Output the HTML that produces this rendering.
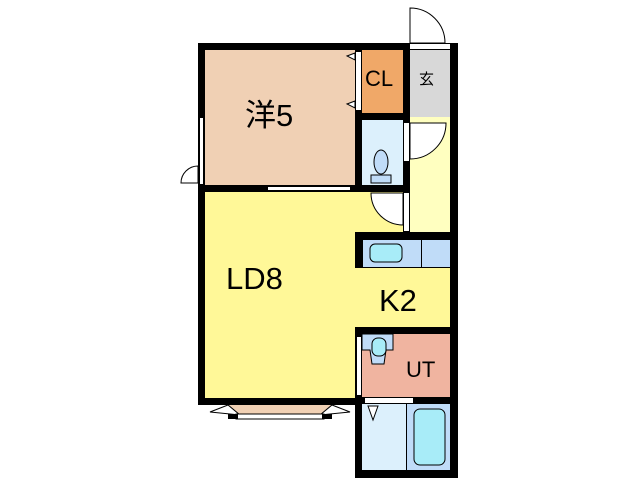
<!DOCTYPE html>
<html><head><meta charset="utf-8"><style>
body{margin:0;width:640px;height:480px;background:#fff;position:relative;overflow:hidden;font-family:"Liberation Sans","Noto Sans CJK JP",sans-serif}
div{position:absolute;box-sizing:border-box}
.w{background:#000}
.t{color:#000;font-size:31px;line-height:1}
</style></head><body>
<!-- rooms -->
<div style="left:205px;top:50px;width:150px;height:135px;background:#f0d0b4"></div>
<div style="left:362px;top:50px;width:41px;height:63px;background:#f0a868"></div>
<div style="left:410px;top:50px;width:40px;height:67px;background:#d8d8d8"></div>
<div style="left:362px;top:120px;width:41px;height:65px;background:#dcf0fc"></div>
<div style="left:410px;top:117px;width:40px;height:115px;background:#ffffc0"></div>
<div style="left:205px;top:192px;width:150px;height:206px;background:#fff898"></div>
<div style="left:355px;top:192px;width:48px;height:40px;background:#fff898"></div>
<div style="left:355px;top:268px;width:95px;height:59px;background:#fff898"></div>
<div style="left:362px;top:240px;width:88px;height:28px;background:#c0dcf8;border-left:1px solid #000;border-bottom:1px solid #000"></div>
<div style="left:421px;top:240px;width:1px;height:28px;background:#000"></div>
<div style="left:362px;top:334px;width:88px;height:63px;background:#f0b4a0"></div>
<div style="left:362px;top:404px;width:88px;height:66px;background:#dcf0fc"></div>
<div style="left:406px;top:404px;width:44px;height:66px;background:#c0dcf8;border-left:1px solid #000"></div>
<!-- walls -->
<div class="w" style="left:198px;top:43px;width:212px;height:7px"></div>
<div class="w" style="left:450px;top:43px;width:8px;height:435px"></div>
<div class="w" style="left:198px;top:43px;width:7px;height:362px"></div>
<div class="w" style="left:198px;top:398px;width:164px;height:7px"></div>
<div class="w" style="left:355px;top:43px;width:7px;height:149px"></div>
<div class="w" style="left:403px;top:43px;width:7px;height:189px"></div>
<div class="w" style="left:355px;top:113px;width:55px;height:7px"></div>
<div class="w" style="left:198px;top:185px;width:212px;height:7px"></div>
<div class="w" style="left:355px;top:232px;width:103px;height:8px"></div>
<div class="w" style="left:355px;top:232px;width:7px;height:36px"></div>
<div class="w" style="left:355px;top:327px;width:103px;height:7px"></div>
<div class="w" style="left:355px;top:327px;width:7px;height:151px"></div>
<div class="w" style="left:355px;top:397px;width:103px;height:7px"></div>
<div class="w" style="left:355px;top:470px;width:103px;height:8px"></div>
<!-- openings -->
<div style="left:410px;top:43px;width:40px;height:7px;background:#fff;border-top:1px solid #000;border-bottom:1px solid #000"></div>
<div style="left:199px;top:118px;width:5px;height:66px;background:#fff;border-left:1px solid #000;border-right:1px solid #000"></div>
<div style="left:268px;top:186px;width:82px;height:5px;background:#fff;border-top:1px solid #000;border-bottom:1px solid #000"></div>
<div style="left:356px;top:52px;width:5px;height:58px;background:#fff"></div>
<div style="left:404px;top:123px;width:5px;height:38px;background:#fff"></div>
<div style="left:404px;top:193px;width:5px;height:38px;background:#fff"></div>
<div style="left:356px;top:337px;width:5px;height:58px;background:#fff;border-left:1px solid #000"></div>
<div style="left:365px;top:398px;width:48px;height:5px;background:#fff"></div>
<div style="left:228px;top:405px;width:104px;height:10px;background:#f0d0b4"></div>
<svg width="640" height="480" style="position:absolute;left:0;top:0">
<g fill="#fff" stroke="#000" stroke-width="1">
<path d="M410 43 L410 8 A35 35 0 0 1 445 43 Z"/>
<path d="M410 123 L446 123 A36 36 0 0 1 410 159 Z"/>
<path d="M403 193 L371 193 A32 32 0 0 0 403 225 Z"/>
<path d="M198 183 L181 183 A17 17 0 0 1 198 166 Z"/>
<path d="M347 56 L355 53 L355 60 Z"/><path d="M347 104 L355 101 L355 108 Z"/>
<path d="M368 406 L373 420 L378 406 Z"/>
<path d="M228 405 L210 412 L240 415 Z"/><path d="M332 405 L350 412 L320 415 Z"/>
</g>
<rect x="236" y="414" width="88" height="5" fill="#fff" stroke="#000"/>
<rect x="228" y="414" width="10" height="5" fill="#000"/><rect x="322" y="414" width="10" height="5" fill="#000"/>
<g stroke="#000" fill="#c0dcf8">
<ellipse cx="381" cy="162" rx="7" ry="12"/>
<rect x="371" y="175" width="20" height="8"/>
<rect x="370" y="244" width="32" height="18" rx="5" fill="#a8ecf8"/>
<path d="M362 334 L393 334 L393 350 L386 350 L384 364 L372 364 L370 350 L362 350 Z"/>
<rect x="372" y="338" width="14" height="18" rx="6" fill="#a8ecf8"/>
<rect x="414" y="409" width="31" height="56" rx="6" fill="#a8ecf8"/>
</g>
</svg>
<div class="t" style="left:245px;top:100px">洋5</div>
<div class="t" style="left:365px;top:68px;font-size:22px">CL</div>
<div class="t" style="left:419px;top:72px;font-size:15px">玄</div>
<div class="t" style="left:226px;top:263px">LD8</div>
<div class="t" style="left:379px;top:285px">K2</div>
<div class="t" style="left:406px;top:359px;font-size:22px">UT</div>
</body></html>
